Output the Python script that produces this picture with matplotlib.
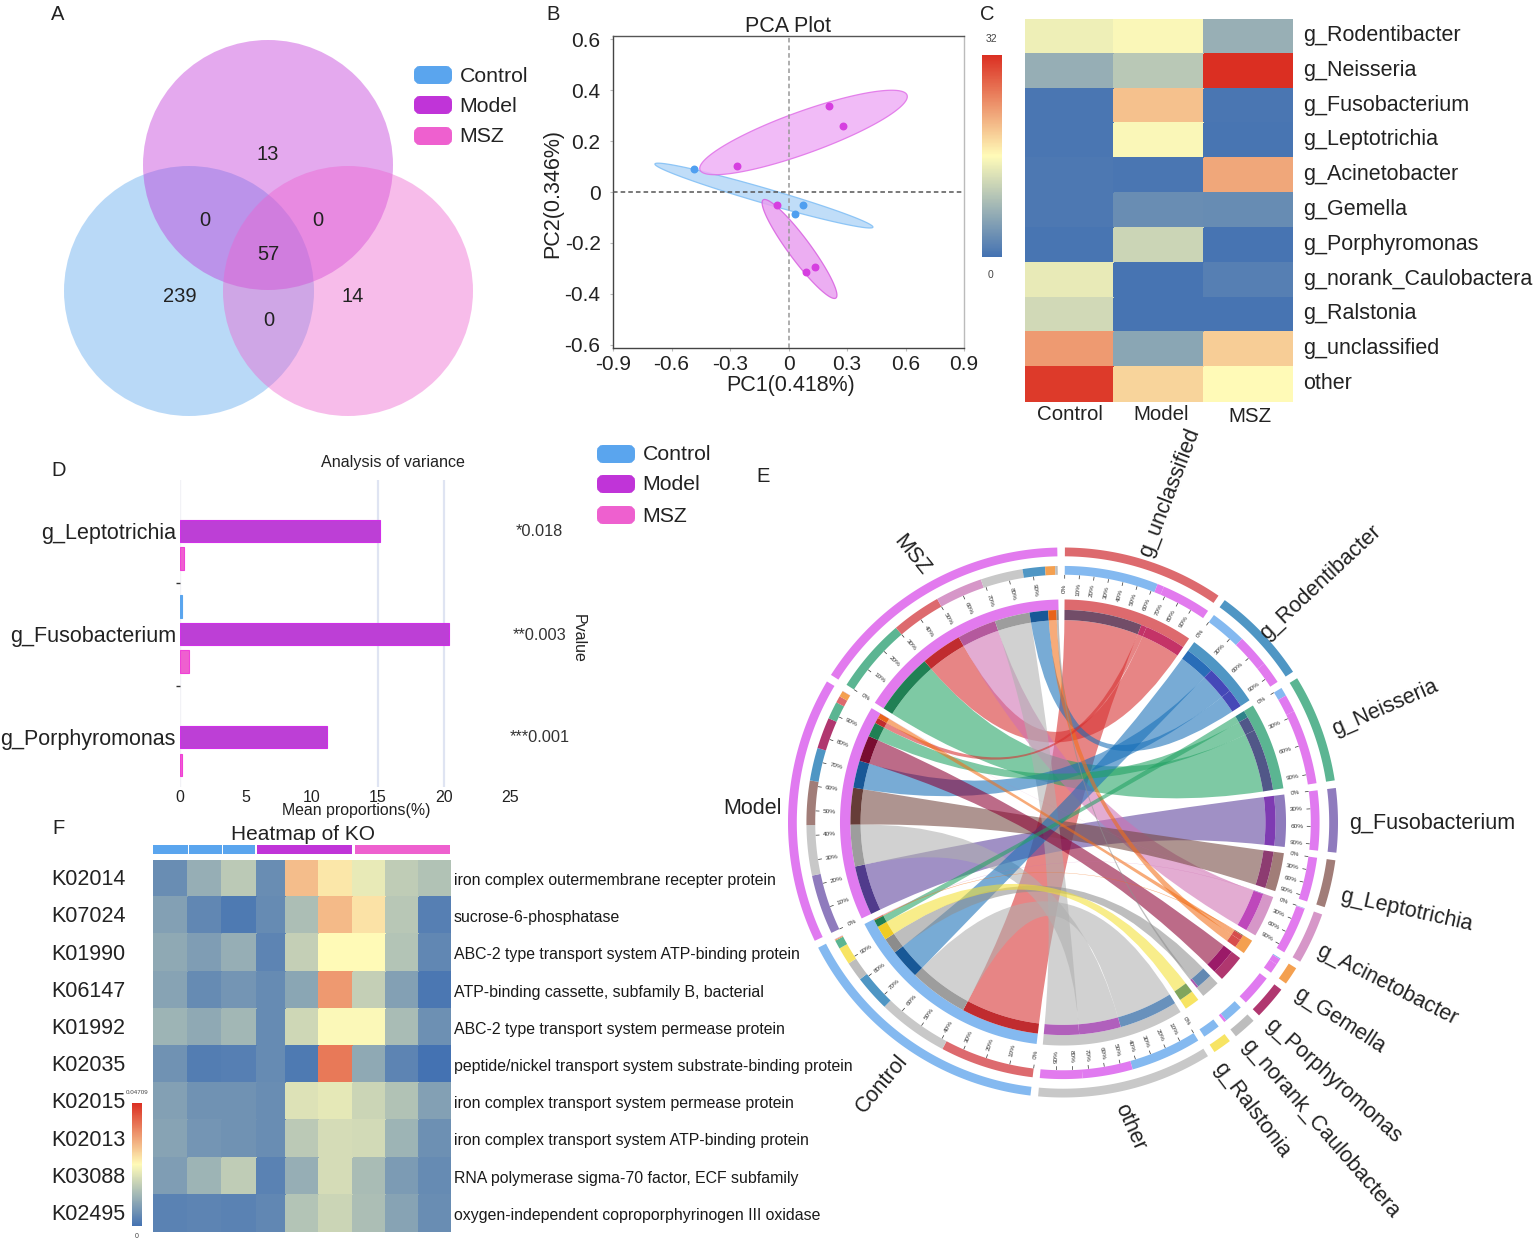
import numpy as np
import matplotlib
matplotlib.use("Agg")
import matplotlib.pyplot as plt
from matplotlib.colors import LinearSegmentedColormap, to_rgb
from matplotlib.patches import Circle, FancyBboxPatch, PathPatch
from matplotlib.path import Path

plt.rcParams['font.family'] = ['Liberation Sans', 'DejaVu Sans']

W, H = 1535, 1244
groups = ['Control', 'Model', 'MSZ']
group_colors = ['#5aa5ee', '#c034d8', '#ee60cf']

# A: Venn
venn_counts = [13, 0, 0, 57, 239, 14, 0]

# B: PCA
pca_control_x = [-0.485, 0.074, 0.034]
pca_control_y = [0.09, -0.051, -0.087]
pca_model_x = [0.207, 0.278, -0.265, -0.06, 0.136, 0.09]
pca_model_y = [0.337, 0.259, 0.102, -0.051, -0.294, -0.314]
pca_xticks = [-0.9, -0.6, -0.3, 0, 0.3, 0.6, 0.9]
pca_yticks = [-0.6, -0.4, -0.2, 0, 0.2, 0.4, 0.6]
# ellipse: long axis end 1, long axis end 2 (data), half width (px)
ell_control = ((-0.685, 0.11), (0.433, -0.138), 7.5)
ell_model_up = ((-0.454, 0.087), (0.608, 0.38), 21)
ell_model_low = ((-0.13, -0.031), (0.243, -0.416), 11)

# C: genus heatmap
genus_rows = ['g_Rodentibacter', 'g_Neisseria', 'g_Fusobacterium', 'g_Leptotrichia',
              'g_Acinetobacter', 'g_Gemella', 'g_Porphyromonas',
              'g_norank_Caulobactera', 'g_Ralstonia', 'g_unclassified', 'other']
genus_control = [14.5, 7, 0.5, 0.5, 0.8, 0.8, 0.4, 14, 12, 23.5, 31]
genus_model = [15.5, 10, 20.5, 15.5, 0.5, 3.2, 11.5, 0.3, 0.3, 6, 19]
genus_msz = [7.2, 32, 0.5, 0.4, 22.5, 3, 0.3, 1.5, 0.3, 19.5, 16]

# D: bars
bar_genera = ['g_Leptotrichia', 'g_Fusobacterium', 'g_Porphyromonas']
bar_control = [0.0, 0.15, 0.0]
bar_model = [15.15, 20.35, 11.13]
bar_msz = [0.3, 0.7, 0.15]
bar_pvalues = ['*0.018', '**0.003', '***0.001']
bar_xticks = [0, 5, 10, 15, 20, 25]

# E: chord (percent of each group per genus)
chord_genera = ['g_unclassified', 'g_Rodentibacter', 'g_Neisseria', 'g_Fusobacterium',
                'g_Leptotrichia', 'g_Acinetobacter', 'g_Gemella', 'g_Porphyromonas',
                'g_norank_Caulobactera', 'g_Ralstonia', 'other']
chord_control = [37.7, 14.6, 3.5, 0, 0, 0.2, 0.4, 0, 7.7, 7.0, 28.5]
chord_model = [2.7, 13.2, 7.0, 24.0, 17.8, 0.1, 2.4, 12.6, 0, 0, 20.2]
chord_msz = [20.0, 9.0, 30.0, 0, 0, 19.0, 4.0, 0, 1.0, 0, 17.0]
chord_steps = [10, 30, 30, 30, 30, 30, 0, 0, 0, 0, 10]
genus_ring_colors = ['#dd6a6e', '#4f96c4', '#5bb592', '#8f7bbd', '#a17d78', '#d697c8',
                     '#f4a050', '#b0376f', '#bdbdbd', '#f7e463', '#c8c8c8']
genus_ribbon_colors = ['#d72e2e', '#166fb8', '#21a263', '#5b409b', '#744740', '#d070b3',
                       '#f26f18', '#8c0033', '#909090', '#f3e035', '#b0b0b0']
group_ring_colors = ['#84b9f0', '#e07af0', '#e27aee']

# F: KO heatmap
ko_ids = ['K02014', 'K07024', 'K01990', 'K06147', 'K01992', 'K02035', 'K02015', 'K02013',
          'K03088', 'K02495']
ko_names = ['iron complex outermembrane recepter protein', 'sucrose-6-phosphatase',
            'ABC-2 type transport system ATP-binding protein',
            'ATP-binding cassette, subfamily B, bacterial',
            'ABC-2 type transport system permease protein',
            'peptide/nickel transport system substrate-binding protein',
            'iron complex transport system permease protein',
            'iron complex transport system ATP-binding protein',
            'RNA polymerase sigma-70 factor, ECF subfamily',
            'oxygen-independent coproporphyrinogen III oxidase']
ko_1 = [.10, .17, .20, .18, .24, .12, .17, .18, .16, .06]
ko_2 = [.22, .08, .16, .09, .20, .04, .12, .13, .24, .07]
ko_3 = [.32, .03, .22, .13, .25, .05, .12, .12, .33, .06]
ko_4 = [.10, .09, .07, .09, .09, .09, .10, .10, .06, .08]
ko_5 = [.65, .28, .34, .19, .37, .03, .41, .32, .22, .30]
ko_6 = [.55, .66, .50, .74, .49, .82, .43, .39, .39, .36]
ko_7 = [.44, .56, .50, .34, .49, .20, .36, .38, .27, .28]
ko_8 = [.33, .31, .30, .17, .27, .07, .29, .24, .15, .18]
ko_9 = [.29, .05, .08, .02, .11, .00, .17, .11, .09, .10]

cmap = LinearSegmentedColormap.from_list('rby', ['#4472b2', '#fffbb8', '#db2f22'])

fig = plt.figure(figsize=(W / 100, H / 100), dpi=100, facecolor='white')


def px_axes(l, t, r, b, **kw):
    return fig.add_axes([l / W, 1 - b / H, (r - l) / W, (b - t) / H], **kw)


ov = px_axes(0, 0, W, H, zorder=10)
ov.set_xlim(0, W)
ov.set_ylim(H, 0)
ov.axis('off')
ov.patch.set_alpha(0)


def T(x, y, s, size=15.5, ha='left', va='center', color='#222222', **kw):
    ov.text(x, y + 2, s, fontsize=size, ha=ha, va=va, color=color, **kw)


for s, x, y in [('A', 51, 13), ('B', 546, 12), ('C', 980, 13), ('D', 51, 469), ('E', 756, 474), ('F', 52, 827)]:
    T(x, y, s, size=14.5)


def legend(x, ys):
    for name, c, y in zip(groups, group_colors, ys):
        ov.add_patch(FancyBboxPatch((x + 3, y - 6), 32, 12, boxstyle='round,pad=0,rounding_size=3',
                                    mutation_aspect=1, fc=c, ec=c, lw=6 * 0.72))
        T(x + 45.5, y - 1, name, size=15.3)


# ---- A
for (cx, cy), c in zip([(189, 291), (268, 165), (348, 291)], group_colors):
    ov.add_patch(Circle((cx, cy), 125, fc=c, ec='none', alpha=0.42))
for n, (x, y) in zip(venn_counts, [(268, 153), (205, 218), (318, 218), (268, 252), (180, 295), (353, 294), (269, 318)]):
    T(x, y, str(n), size=14.5, ha='center')
legend(414, [75, 105, 136])

# ---- B
axb = px_axes(613, 36, 964, 348)
axb.set_xlim(-0.9, 0.9)
axb.set_ylim(-0.612, 0.612)
sx, sy = 351 / 1.8, 312 / 1.224


def ellipse(ax, spec, fc, ec):
    p, q, hw = spec
    p, q = np.array(p), np.array(q)
    c = (p + q) / 2
    u = (q - p) / 2
    up = np.array([u[0] * sx, u[1] * sy])
    n = np.array([-up[1], up[0]]) / np.hypot(*up) * hw
    v = np.array([n[0] / sx, n[1] / sy])
    t = np.linspace(0, 2 * np.pi, 200)
    pts = c + np.outer(np.cos(t), u) + np.outer(np.sin(t), v)
    ax.fill(pts[:, 0], pts[:, 1], fc=fc, ec=ec, lw=0.9, alpha=0.85, zorder=2)


ellipse(axb, ell_control, '#b5d7f7', '#7fbef5')
ellipse(axb, ell_model_up, '#efaff6', '#e070e8')
ellipse(axb, ell_model_low, '#e9a0f0', '#d860e0')
axb.axhline(0, color='#555555', lw=1.1, ls=(0, (3, 2)), zorder=3)
axb.axvline(0, color='#999999', lw=1.1, ls=(0, (3, 2)), zorder=3)
axb.scatter(pca_control_x, pca_control_y, s=22, color='#4f9ff0', zorder=4)
axb.scatter(pca_model_x, pca_model_y, s=22, color='#d63fe0', zorder=4)
axb.set_xticks(pca_xticks, [f'{v:g}' for v in pca_xticks])
axb.set_yticks(pca_yticks, [f'{v:g}' for v in pca_yticks])
axb.tick_params(labelsize=15, length=2, color='#bbbbbb', labelcolor='#222222', pad=3)
axb.tick_params(axis='y', pad=7)
for k, c in dict(left='#444444', bottom='#444444', top='#555555', right='#bbbbbb').items():
    axb.spines[k].set_color(c)
    axb.spines[k].set_linewidth(1.0)
T(788, 24, 'PCA Plot', size=15.5, ha='center')
T(791, 384, 'PC1(0.418%)', size=15.5, ha='center')
T(553, 191, 'PC2(0.346%)', size=15.5, ha='center', rotation=90)

# ---- C
axc = px_axes(1025, 19, 1293, 402)
mat_c = np.array([genus_control, genus_model, genus_msz]).T
mc = axc.pcolormesh(np.arange(4), np.arange(len(genus_rows) + 1), mat_c, cmap=cmap, vmin=0, vmax=32,
                    edgecolors='face', lw=0.3)
axc.set_ylim(len(genus_rows), 0)
axc.set_xticks([])
axc.set_yticks([])
for s in axc.spines.values():
    s.set_visible(False)
for k, g in enumerate(genus_rows):
    T(1303, 19 + 383 / len(genus_rows) * (k + 0.5) - 3, g, size=15.5)
for g, x, y in zip(groups, [1070, 1161, 1250], [412, 413, 414]):
    T(x, y, g, size=14.8, ha='center')
cc = px_axes(982, 55, 1002, 257)
cb = fig.colorbar(mc, cax=cc)
cb.set_ticks([])
cb.outline.set_visible(False)
T(991, 37, '32', size=7.5, ha='center', color='#444444')
T(991, 273, '0', size=7.5, ha='center', color='#444444')

# ---- D
axd = px_axes(180, 480, 511, 787)
axd.set_xlim(0, 331 / 13.2)
axd.set_ylim(2.485, -0.495)
ypos = np.arange(len(bar_genera))
for vals, c, ec, off in [(bar_control, group_colors[0], '#5aa5ee', -0.27),
                         (bar_model, '#bd3fd6', '#d030e8', 0),
                         (bar_msz, group_colors[2], '#f040d8', 0.27)]:
    v = np.array(vals)
    keep = v > 0
    axd.barh(ypos[keep] + off, v[keep], height=0.22, color=c, edgecolor=ec, lw=0.8, zorder=3)
for v in (15, 20):
    axd.axvline(v, color='#dfe4f2', lw=1.6, zorder=1)
axd.axvline(0, color='#f2f2f6', lw=1, zorder=1)
axd.set_xticks(bar_xticks)
axd.set_yticks(ypos, bar_genera)
axd.set_yticks(ypos[:-1] + 0.5, minor=True)
axd.tick_params(axis='y', which='major', length=0, labelsize=15.5, labelcolor='#222222', pad=3)
axd.tick_params(axis='y', which='minor', length=3, width=1, color='#333333')
axd.tick_params(axis='x', length=0, labelsize=11.5, labelcolor='#222222', pad=2)
for s in axd.spines.values():
    s.set_visible(False)
for p, y in zip(bar_pvalues, ypos):
    T(539.5, 530 + 103 * y, p, size=11.8, ha='center', color='#333333')
T(393, 461, 'Analysis of variance', size=11.6, ha='center')
T(356, 808, 'Mean proportions(%)', size=11.4, ha='center')
T(578, 636, 'Pvalue', size=11.5, ha='center', rotation=-90)
legend(597, [454, 484, 515])

# ---- E
axe = px_axes(1063 - 278, 822.5 - 278, 1063 + 278, 822.5 + 278)
lim = 278 / 275
axe.set_xlim(-lim, lim)
axe.set_ylim(-lim, lim)
axe.axis('off')
M = np.array([chord_control, chord_model, chord_msz])  # groups x genera
GAP = 1.6
n_g, n_s = M.shape[1], M.shape[0]
scale = (360 - GAP * (n_g + n_s)) / (2 * M.sum())


def xy(theta, r):
    t = np.deg2rad(theta)
    return np.array([r * np.sin(t), r * np.cos(t)])


def ring(a0, a1, r0, r1, color, z=3):
    th = np.linspace(a0, a1, max(int(abs(a1 - a0) * 2), 3))
    t = np.deg2rad(th)
    xs = np.r_[r1 * np.sin(t), r0 * np.sin(t[::-1])]
    ys = np.r_[r1 * np.cos(t), r0 * np.cos(t[::-1])]
    axe.fill(xs, ys, color=color, lw=0, zorder=z)


def mult(a, b):
    return tuple(np.array(to_rgb(a)) * np.array(to_rgb(b)))


R_OUT = (0.968, 1.0)
R_MID = (0.901, 0.933)
R_IN = (0.773, 0.811)
R_SEG = (0.736, 0.773)
angle = 0.4
genus_ends = {}
sector_info = []
for j, g in enumerate(chord_genera):
    total = M[:, j].sum()
    a0 = angle
    a1 = a0 + total * scale
    sector_info.append((a0, a1, chord_steps[j]))
    ring(a0, a1, *R_OUT, genus_ring_colors[j])
    ring(a0, a1, *R_IN, genus_ring_colors[j])
    a = a0
    for i in range(n_s):
        b = a + M[i, j] * scale
        if M[i, j] > 0:
            ring(a, b, *R_MID, group_ring_colors[i])
            ring(a, b, *R_SEG, mult(genus_ring_colors[j], group_ring_colors[i]))
            genus_ends[(i, j)] = (a, b)
        a = b
    angle = a1 + GAP
group_ends = {}
for i, g in enumerate(groups):
    total = M[i].sum()
    a0 = angle
    a1 = a0 + total * scale
    sector_info.append((a0, a1, 10))
    ring(a0, a1, *R_OUT, group_ring_colors[i])
    ring(a0, a1, *R_IN, group_ring_colors[i])
    a = a0
    for j in np.argsort(-M[i], kind='stable'):
        if M[i, j] <= 0:
            continue
        b = a + M[i, j] * scale
        ring(a, b, *R_MID, genus_ring_colors[j])
        ring(a, b, *R_SEG, mult(genus_ring_colors[j], genus_ring_colors[j]))
        group_ends[(i, j)] = (a, b)
        a = b
    angle = a1 + GAP


def arc(a, b, r):
    th = np.linspace(a, b, max(int(abs(b - a) * 2), 2))
    t = np.deg2rad(th)
    return np.c_[r * np.sin(t), r * np.cos(t)]


rr = R_SEG[0]
order = sorted(genus_ends, key=lambda k: -M[k])
for (i, j) in order:
    a0, a1 = genus_ends[(i, j)]
    b0, b1 = group_ends[(i, j)]
    arc1 = arc(a0, a1, rr)
    arc2 = arc(b0, b1, rr)
    verts = [tuple(arc1[0])]
    codes = [Path.MOVETO]
    for p in arc1[1:]:
        verts.append(tuple(p)); codes.append(Path.LINETO)
    verts += [(0, 0), tuple(arc2[0])]
    codes += [Path.CURVE3, Path.CURVE3]
    for p in arc2[1:]:
        verts.append(tuple(p)); codes.append(Path.LINETO)
    verts += [(0, 0), tuple(arc1[0])]
    codes += [Path.CURVE3, Path.CURVE3]
    axe.add_patch(PathPatch(Path(verts, codes), fc=genus_ribbon_colors[j], ec='none', alpha=0.58, zorder=2))

for a0, a1, step in sector_info:
    if not step:
        continue
    for pct in range(0, 100, step):
        th = a0 + (a1 - a0) * pct / 100
        p0, p1 = xy(th, 0.888), xy(th, 0.899)
        axe.plot([p0[0], p1[0]], [p0[1], p1[1]], color='#333333', lw=0.5, zorder=3)
        c = xy(th, 0.85)
        rot = 90 - th
        if np.sin(np.deg2rad(th)) < 0:
            rot += 180
        axe.text(c[0], c[1], f'{pct}%', fontsize=4.6, rotation=rot, rotation_mode='anchor',
                 ha='center', va='center', color='#333333', zorder=3)

chord_labels = chord_genera + groups
label_pos = [(1145, 556, 69), (1263, 636, 43), (1333, 730, 23.4), (1349, 824, 0), (1340, 896, -12.6),
             (1318, 950, -27), (1296, 992, -33), (1268, 1022, -42), (1245, 1042, -49), (1218, 1065, -53),
             (1120, 1105, -66), (860, 1110, 50), (723, 808, 0), (898, 538, -51)]
for s, (x, y, rot) in zip(chord_labels, label_pos):
    ov.text(x, y, s, fontsize=15.5, rotation=rot, rotation_mode='anchor', ha='left', va='center', color='#222222')

# ---- F
col_edges = [153.3, 188.3, 222.3, 257.3, 286, 319, 353.3, 385.7, 419.3, 451]
axf = px_axes(col_edges[0], 860, col_edges[-1], 1232)
mat_f = np.array([ko_1, ko_2, ko_3, ko_4, ko_5, ko_6, ko_7, ko_8, ko_9]).T
mf = axf.pcolormesh(col_edges, np.arange(len(ko_ids) + 1), mat_f, cmap=cmap, vmin=0, vmax=1,
                    edgecolors='face', lw=0.2)
axf.set_ylim(len(ko_ids), 0)
axf.set_xticks([])
axf.set_yticks([])
for s in axf.spines.values():
    s.set_visible(False)
row_h = 372 / len(ko_ids)
for k, (kid, nm) in enumerate(zip(ko_ids, ko_names)):
    yy = 860 + row_h * (k + 0.5)
    T(51, yy - 1, kid, size=15.5)
    T(454, yy, nm, size=11.4, color='#1a1a1a')
T(303, 833, 'Heatmap of KO', size=15, ha='center')
for (x0, x1), c in zip([(153, 188), (188.6, 222), (222.6, 255), (257, 352), (355, 450)],
                       [group_colors[0], group_colors[0], group_colors[0], group_colors[1], group_colors[2]]):
    ov.fill([x0, x1, x1, x0], [845, 845, 854, 854], color=c, lw=0)
cf = px_axes(132, 1103, 142, 1226)
cb2 = fig.colorbar(mf, cax=cf)
cb2.set_ticks([])
cb2.outline.set_visible(False)
T(137, 1091, '0.04709', size=4.5, ha='center', color='#444444')
T(137, 1234, '0', size=5, ha='center', color='#444444')

fig.savefig('out.png', dpi=100, facecolor='white')
